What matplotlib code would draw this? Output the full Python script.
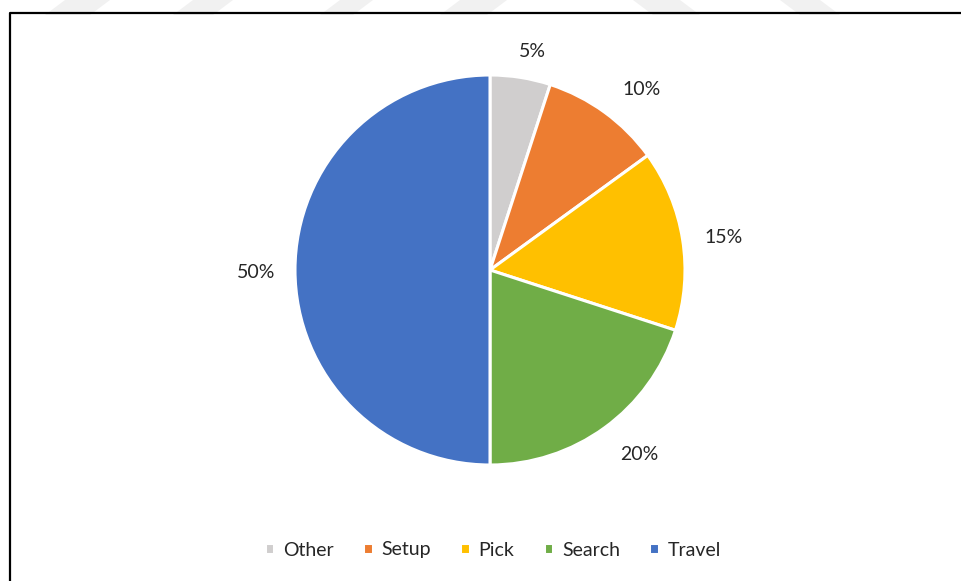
import matplotlib
matplotlib.use("Agg")
import matplotlib.pyplot as plt
import numpy as np
from matplotlib.patches import Polygon
from matplotlib.lines import Line2D

plt.rcParams["font.family"] = ["Lato", "DejaVu Sans"]

labels = ["Other", "Setup", "Pick", "Search", "Travel"]
shares = [5, 10, 15, 20, 50]
colors = ["#D0CECE", "#ED7D31", "#FFC000", "#70AD47", "#4472C4"]

W, H = 961, 581
fig = plt.figure(figsize=(W / 100, H / 100), dpi=100)
fig.patch.set_facecolor("white")

# faint chevron stripes along the top edge of the page
stripes_up = [(45, 110), (173, 233), (320, 373), (440, 507)]
stripes_down = [(633, 700), (780, 840)]
for x0, x1 in stripes_up:
    pts = [(x0, 15), (x1 - 20, 15), (x1, 0), (x0 + 20, 0)]
    fig.patches.append(Polygon([(x / W, 1 - y / H) for x, y in pts],
                               closed=True, transform=fig.transFigure,
                               fc="#f1f1f1", ec="none", zorder=0))
for x0, x1 in stripes_down:
    pts = [(x0, 0), (x1 - 20, 0), (x1, 15), (x0 + 20, 15)]
    fig.patches.append(Polygon([(x / W, 1 - y / H) for x, y in pts],
                               closed=True, transform=fig.transFigure,
                               fc="#f1f1f1", ec="none", zorder=0))

# chart frame (left and top edges only are in view)
fig.add_artist(Line2D([10 / W, 10 / W, 1.0], [0.0, 1 - 13 / H, 1 - 13 / H],
                      transform=fig.transFigure, color="black", lw=1.6))

R = 195
span = 1.25
cx, cy = 490, 270
ax = fig.add_axes([(cx - R * span) / W, (H - cy - R * span) / H,
                   2 * R * span / W, 2 * R * span / H])
ax.set_xlim(-span, span)
ax.set_ylim(-span, span)
ax.set_aspect("equal")
ax.axis("off")

wedges, texts, autotexts = ax.pie(
    shares, colors=colors, startangle=90, counterclock=False,
    autopct=lambda p: f"{p:.0f}%", pctdistance=1.2,
    wedgeprops=dict(edgecolor="white", linewidth=2.2),
    textprops=dict(fontsize=14, color="#262626"))

# nudge the outside labels (radius, angle in degrees)
label_pos = [(1.14, 79), (1.21, 50), (1.21, 8), (1.22, -51), (1.2, 180.5)]
for t, (r, a) in zip(autotexts, label_pos):
    t.set_position((r * np.cos(np.radians(a)), r * np.sin(np.radians(a))))

fig.legend(wedges, labels, loc="center", bbox_to_anchor=(493 / W, 1 - 550 / H),
           ncol=5, frameon=False, handlelength=0.5, handleheight=0.5,
           handletextpad=0.45, columnspacing=1.5, fontsize=14,
           labelcolor="#262626")

fig.savefig("out.png", dpi=100)
